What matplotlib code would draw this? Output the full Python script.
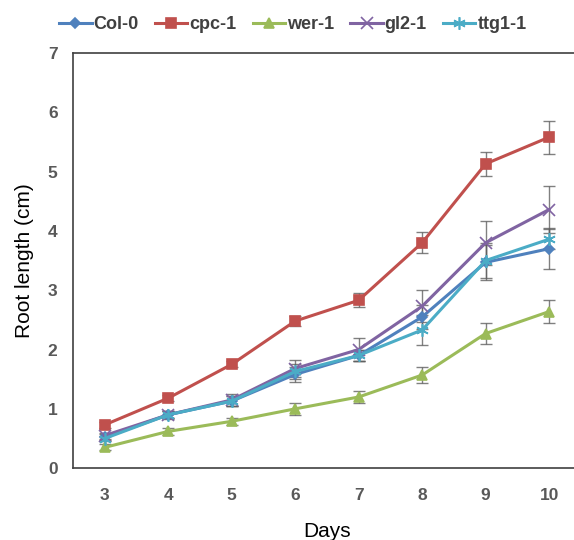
import matplotlib.pyplot as plt

plt.rcParams['font.family'] = ['Liberation Sans', 'DejaVu Sans']

days = [3, 4, 5, 6, 7, 8, 9, 10]
labels = ['Col-0', 'cpc-1', 'wer-1', 'gl2-1', 'ttg1-1']

col0 = [0.52, 0.90, 1.13, 1.58, 1.90, 2.55, 3.47, 3.70]
cpc1 = [0.73, 1.18, 1.75, 2.48, 2.83, 3.80, 5.13, 5.58]
wer1 = [0.35, 0.62, 0.79, 1.00, 1.20, 1.57, 2.27, 2.64]
gl21 = [0.55, 0.90, 1.15, 1.68, 2.00, 2.73, 3.80, 4.36]
ttg11 = [0.50, 0.90, 1.13, 1.63, 1.90, 2.33, 3.50, 3.86]

col0_err = [0.05, 0.06, 0.08, 0.12, 0.10, 0.20, 0.30, 0.35]
cpc1_err = [0.05, 0.05, 0.05, 0.08, 0.12, 0.18, 0.20, 0.28]
wer1_err = [0.05, 0.06, 0.06, 0.10, 0.10, 0.13, 0.17, 0.20]
gl21_err = [0.05, 0.07, 0.10, 0.15, 0.20, 0.27, 0.37, 0.40]
ttg11_err = [0.05, 0.06, 0.08, 0.12, 0.10, 0.25, 0.30, 0.17]

series = [col0, cpc1, wer1, gl21, ttg11]
errors = [col0_err, cpc1_err, wer1_err, gl21_err, ttg11_err]
colors = ['#4F81BD', '#C0504D', '#9BBB59', '#8064A2', '#4BACC6']
markers = ['D', 's', '^', 'x', (6, 2, 0)]
msizes = [5, 7.5, 7, 8, 9]

fig = plt.figure(figsize=(5.74, 5.4), dpi=100)
ax = fig.add_axes([0.127, 0.133, 0.885, 0.769])

for vals, err, c, m, ms, lab in zip(series, errors, colors, markers, msizes, labels):
    ax.errorbar(days, vals, yerr=err, fmt='none', ecolor='#606060',
                elinewidth=1, capsize=4, capthick=1, alpha=0.8, zorder=2)
    ax.plot(days, vals, color=c, marker=m, markersize=ms, linewidth=2.2,
            markeredgewidth=1.2, label=lab, zorder=3)

ax.set_xlim(2.5, 10.5)
ax.set_ylim(0, 7)
ax.set_xticks(days)
ax.set_yticks(range(0, 8))
ax.tick_params(length=0, labelsize=12.5, labelcolor='#595959')
ax.tick_params(axis='x', pad=14)
ax.tick_params(axis='y', pad=11)
for t in ax.get_xticklabels() + ax.get_yticklabels():
    t.set_fontweight('bold')

ax.spines['right'].set_visible(False)
for s in ax.spines.values():
    s.set_color('#404040')
    s.set_linewidth(1.2)

ax.set_xlabel('Days', fontsize=15, labelpad=14)
ax.set_ylabel('Root length (cm)', fontsize=15, labelpad=10)

leg = fig.legend(loc='upper center', bbox_to_anchor=(0.51, 1.0), ncol=5,
                 frameon=False, fontsize=13, handlelength=1.8,
                 handletextpad=0.1, columnspacing=0.9)
for t in leg.get_texts():
    t.set_fontweight('bold')
    t.set_color('#404040')

plt.savefig('out.png', dpi=100)
